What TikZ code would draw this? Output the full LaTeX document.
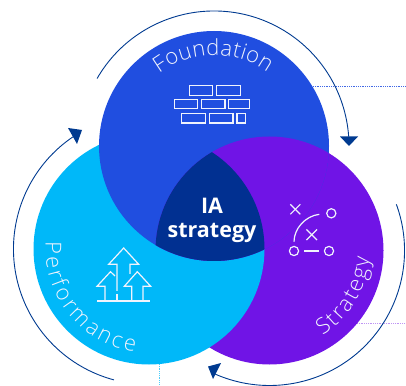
\documentclass[tikz,border=0pt]{standalone}
\usepackage{fontspec}
\setmainfont{Open Sans}
\newfontfamily\thinfont[UprightFont=* Light]{Open Sans}
\usetikzlibrary{decorations.text}
\definecolor{fdblue}{HTML}{204EE0}
\definecolor{pfcyan}{HTML}{00B8F9}
\definecolor{stpurple}{HTML}{7014E6}
\definecolor{iadark}{HTML}{013091}
\definecolor{ringblue}{HTML}{003A90}
\definecolor{icontext}{HTML}{F0F3FD}
\tikzset{
	ring/.style={draw=ringblue,line width=0.9pt},
	ringtip/.style={fill=ringblue},
	icon/.style={draw=icontext,line width=1.2pt},
	leader/.style={densely dotted,line width=0.8pt},
	curved/.style={decorate,decoration={text along path,text align=fit to path,
		text={|\fontsize{22}{22}\thinfont\color{icontext}|#1}}},
}
\begin{document}
\begin{tikzpicture}[x=1pt,y=1pt]
	\useasboundingbox (0,0) rectangle (406,385);
	\coordinate (F) at (214,239);
	\coordinate (C) at (149,136);
	\coordinate (S) at (269.5,134.5);

	\draw[leader,fdblue!85] (313,298.3) -- (406,298.3);
	\draw[leader,stpurple!45] (357,61.3) -- (406,61.3);
	\draw[leader,pfcyan!70] (159.3,21) -- (159.3,0);

	\fill[stpurple] (S) circle (114);
	\fill[pfcyan] (C) circle (115.5);
	\fill[fdblue] (F) circle (115);
	\begin{scope}
		\clip (F) circle (115);
		\fill[stpurple] (S) circle (114);
		\clip (S) circle (114);
		\fill[iadark] (C) circle (115.5);
	\end{scope}

	\draw[ring] ([shift={(150:135)}]F) arc (150:4:135);
	\fill[ringtip] (340,248.5) -- (358,248.5) -- (349,239) -- cycle;
	\draw[ring] ([shift={(255:135.5)}]C) arc (255:122:135.5);
	\fill[ringtip] (68,257) -- (82,255) -- (77,241) -- cycle;
	\draw[ring] ([shift={(20:135)}]S) arc (20:-114:135);
	\fill[ringtip] (208,18.5) -- (221,22) -- (213,6) -- cycle;

	\path[curved=Foundation] ([shift={(127:91)}]F) arc (127:54:91);
	\path[curved=Performance] ([shift={(176:103.5)}]C) arc (176:262:103.5);
	\path[curved=Strategy] ([shift={(-58:100)}]S) arc (-58:-4:100);

	\node[font=\bfseries\fontsize{21.5}{24}\selectfont,text=white,align=center] (iastrategy) at (212,164.5) {IA\\strategy};

	\draw[icon] (189.3,289.3) rectangle (212.3,299.3);
	\draw[icon] (216.7,289.3) rectangle (240.3,299.3);
	\draw[icon] (174.7,276.3) rectangle (197.7,285.7);
	\draw[icon] (201.3,276.3) rectangle (225,285.7);
	\draw[icon] (228.7,276.3) rectangle (249.3,285.7);
	\draw[icon] (181.7,262) rectangle (205.3,271.7);
	\draw[icon] (209.3,262) rectangle (233,271.7);
	\draw[icon] (237,262) rectangle (245.3,271.7);

	\draw[icon] (97.3,84) -- (150.3,84);
	\draw[icon] (117,94) -- (117,120.7) -- (108.7,120.7) -- (123.7,137) -- (138.7,120.7) -- (130,120.7) -- (130,111);
	\draw[icon] (117,91) -- (117,84);
	\draw[icon] (105,84) -- (105,98.7) -- (97,98.7) -- (110.5,113.3) -- (115,109);
	\draw[icon] (131.7,84) -- (131.7,98.7) -- (124.3,98.7) -- (137.3,113.3) -- (150.7,98.7) -- (143,98.7) -- (143,84);

	\draw[icon] (290.3,170.7) -- (300.3,180.7);
	\draw[icon] (290.3,180.7) -- (300.3,170.7);
	\draw[icon] (306.4,145) -- (317,155.6);
	\draw[icon] (306.4,155.6) -- (317,145);
	\draw[icon] (331.3,171.7) circle (4.6);
	\draw[icon] (294,134) circle (4.6);
	\draw[icon] (329,134) circle (4.6);
	\draw[icon] (304,134) -- (319.3,134);
	\draw[icon] (294,143.3) .. controls (294,156) and (305,169) .. (319.3,170.7);
\end{tikzpicture}
\end{document}
